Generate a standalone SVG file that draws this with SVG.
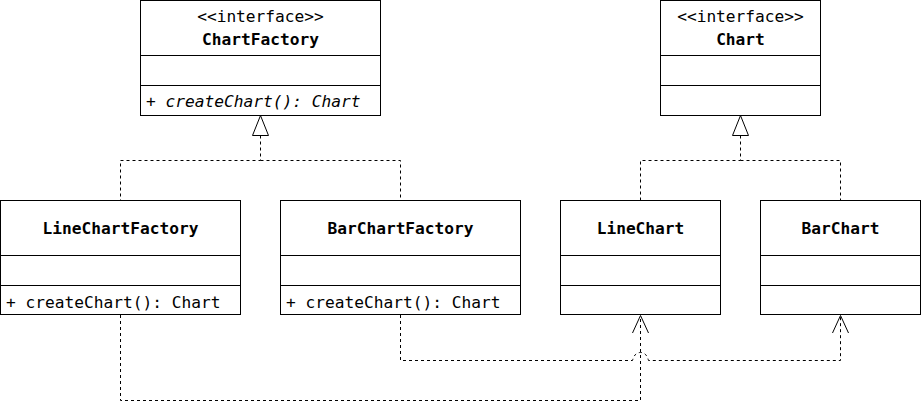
<svg xmlns="http://www.w3.org/2000/svg" width="921" height="419" viewBox="0 0 921 419">
<style>
.box{fill:#fff;stroke:#000;stroke-width:1}
.sep{stroke:#000;stroke-width:1}
text{font-family:"DejaVu Sans Mono","Liberation Mono",monospace;font-size:16.2px;fill:#000}
.t{text-anchor:middle;font-weight:bold}
.s{text-anchor:middle}
.i{font-style:italic}
.d{fill:none;stroke:#000;stroke-width:1;stroke-dasharray:3 3}
.tri{fill:#fff;stroke:#000;stroke-width:1}
.open{fill:none;stroke:#000;stroke-width:1}
</style>
<rect width="921" height="419" fill="#fff"/>
<g id="connectors">
<path class="d" d="M260.5 135.5V160.5H120.5V200"/>
<path class="d" d="M260.5 160.5H400.5V200"/>
<polygon class="tri" points="260.5,115.5 252.5,135.5 268.5,135.5"/>
<path class="d" d="M740.5 135.5V160.5H640.5V200"/>
<path class="d" d="M740.5 160.5H840.5V200"/>
<polygon class="tri" points="740.5,115.5 732.5,135.5 748.5,135.5"/>
<path class="d" d="M120.5 315V400.5H640.5V316"/>
<polyline class="open" points="632.5,333 640.5,315.5 648.5,333"/>
<path class="d" d="M400.5 315V360.5H632.5Q634.5 352.5 640.5 352.5Q646.5 352.5 648.5 360.5H840.5V316"/>
<polyline class="open" points="832.5,333 840.5,315.5 848.5,333"/>
</g>
<g id="ChartFactory">
<rect class="box" x="140.5" y="0.5" width="240" height="115"/>
<line class="sep" x1="140.5" y1="55.5" x2="380.5" y2="55.5"/>
<line class="sep" x1="140.5" y1="85.5" x2="380.5" y2="85.5"/>
<text class="s" x="260.5" y="22">&lt;&lt;interface&gt;&gt;</text>
<text class="t" x="260.5" y="45">ChartFactory</text>
<text class="i" x="146" y="107">+ createChart(): Chart</text>
</g>
<g id="Chart">
<rect class="box" x="660.5" y="0.5" width="160" height="115"/>
<line class="sep" x1="660.5" y1="55.5" x2="820.5" y2="55.5"/>
<line class="sep" x1="660.5" y1="85.5" x2="820.5" y2="85.5"/>
<text class="s" x="740.5" y="22">&lt;&lt;interface&gt;&gt;</text>
<text class="t" x="740.5" y="45">Chart</text>
</g>
<g id="LineChartFactory">
<rect class="box" x="0.5" y="200.5" width="240" height="114"/>
<line class="sep" x1="0.5" y1="255.5" x2="240.5" y2="255.5"/>
<line class="sep" x1="0.5" y1="285.5" x2="240.5" y2="285.5"/>
<text class="t" x="120.5" y="234">LineChartFactory</text>
<text x="6" y="308">+ createChart(): Chart</text>
</g>
<g id="BarChartFactory">
<rect class="box" x="280.5" y="200.5" width="240" height="114"/>
<line class="sep" x1="280.5" y1="255.5" x2="520.5" y2="255.5"/>
<line class="sep" x1="280.5" y1="285.5" x2="520.5" y2="285.5"/>
<text class="t" x="400.5" y="234">BarChartFactory</text>
<text x="286" y="308">+ createChart(): Chart</text>
</g>
<g id="LineChart">
<rect class="box" x="560.5" y="200.5" width="160" height="114"/>
<line class="sep" x1="560.5" y1="255.5" x2="720.5" y2="255.5"/>
<line class="sep" x1="560.5" y1="285.5" x2="720.5" y2="285.5"/>
<text class="t" x="640.5" y="234">LineChart</text>
</g>
<g id="BarChart">
<rect class="box" x="760.5" y="200.5" width="160" height="114"/>
<line class="sep" x1="760.5" y1="255.5" x2="920.5" y2="255.5"/>
<line class="sep" x1="760.5" y1="285.5" x2="920.5" y2="285.5"/>
<text class="t" x="840.5" y="234">BarChart</text>
</g>
</svg>
